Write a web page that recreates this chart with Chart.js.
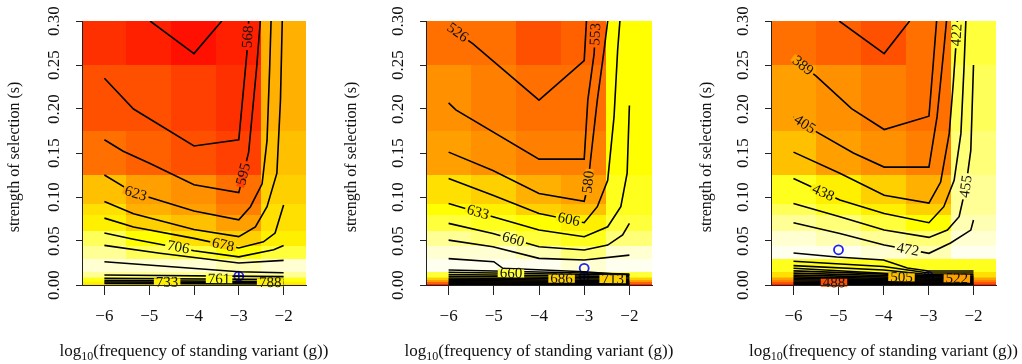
<!DOCTYPE html>
<html>
<head>
<meta charset="utf-8">
<script src="https://cdn.jsdelivr.net/npm/chart.js@4.4.0/dist/chart.umd.min.js"></script>
<style>
  html, body { margin: 0; padding: 0; background: #fff; }
  #wrap { position: relative; width: 1022px; height: 364px; overflow: hidden; }
  canvas { position: absolute; top: 0; }
</style>
</head>
<body>
<div id="wrap">
  <canvas id="p1" width="340" height="364" style="left:0px"></canvas>
  <canvas id="p2" width="340" height="364" style="left:340px"></canvas>
  <canvas id="p3" width="342" height="364" style="left:680px"></canvas>
</div>
<script>
// grid of the image: one column per log10(g), rows bounded by these s values
const G_CENTRES = [-6, -5, -4, -3, -2];
const S_EDGES = [0, 0.002, 0.004, 0.006, 0.008, 0.01, 0.015, 0.03, 0.045, 0.062, 0.08, 0.093, 0.125, 0.175, 0.25, 0.3];
const G_TICKS = [-6, -5, -4, -3, -2];
const S_TICKS = [0, 0.05, 0.1, 0.15, 0.2, 0.25, 0.3];

// heat level of each cell, rows from s=0 upwards (0 red, 16 yellow, 24 nearly white)
const HEAT_1 = [
  [14, 14, 14, 14, 14], [15, 15, 15, 15, 15], [16, 16, 16, 16, 16], [17, 17, 17, 17, 17],
  [19, 19, 19, 19, 19], [21, 21, 21, 21, 21], [23, 23, 23, 22, 23], [21, 19, 18, 16, 18],
  [19, 16, 14, 13, 15], [15, 13, 12, 10, 14], [14, 11, 10, 8, 14], [12, 10, 9, 7, 13],
  [7, 6, 5, 4, 12], [5, 5, 4, 3, 11], [3, 2, 1, 2, 11]
];
const HEAT_2 = [
  [2, 2, 2, 2, 2], [6, 6, 6, 6, 6], [10, 10, 10, 10, 10], [13, 13, 13, 13, 13],
  [15, 15, 15, 15, 15], [18, 18, 18, 18, 18], [24, 24, 24, 23, 24], [23, 23, 22, 20, 23],
  [21, 20, 18, 17, 20], [18, 17, 16, 15, 18], [16, 15, 13, 12, 17], [14, 13, 11, 10, 17],
  [10, 9, 8, 8, 16], [9, 8, 7, 7, 16], [7, 7, 5, 6, 16]
];
const HEAT_3 = [
  [2, 2, 2, 2, 2], [5, 5, 5, 5, 5], [8, 8, 8, 8, 8], [10, 10, 10, 10, 10],
  [12, 12, 12, 12, 12], [14, 14, 14, 14, 14], [17, 17, 17, 17, 17], [24, 24, 23, 22, 24],
  [23, 22, 21, 20, 23], [21, 20, 18, 16, 22], [19, 17, 15, 13, 21], [17, 15, 13, 11, 21],
  [12, 10, 9, 8, 20], [10, 9, 8, 7, 19], [7, 6, 5, 7, 18]
];

// contour lines as [log10(g), s] vertices
const LINES_1 = [
  [[-4.98, 0.3], [-4.0, 0.263], [-3.38, 0.3]],
  [[-6, 0.235], [-5.35, 0.2], [-4, 0.158], [-3, 0.165], [-2.82, 0.263], [-2.78, 0.3]],
  [[-6, 0.165], [-5.58, 0.152], [-4.98, 0.138], [-4, 0.114], [-3, 0.105], [-2.78, 0.151], [-2.6, 0.248], [-2.52, 0.3]],
  [[-6, 0.125], [-5.35, 0.105], [-4, 0.084], [-3, 0.074], [-2.74, 0.089], [-2.48, 0.115], [-2.37, 0.164], [-2.31, 0.248], [-2.28, 0.3]],
  [[-6, 0.095], [-5.35, 0.081], [-4, 0.063], [-3, 0.055], [-2.63, 0.066], [-2.37, 0.089], [-2.15, 0.127], [-2.07, 0.21], [-2.03, 0.3]],
  [[-6, 0.076], [-5.35, 0.066], [-4, 0.053], [-3, 0.042], [-2.45, 0.049], [-2.19, 0.059], [-2, 0.091]],
  [[-6, 0.059], [-5.35, 0.052], [-4, 0.039], [-3, 0.032], [-2.22, 0.04], [-2, 0.045]],
  [[-6, 0.045], [-4.76, 0.036], [-3, 0.025], [-2, 0.028]],
  [[-6, 0.0265], [-3, 0.015], [-2, 0.014]],
  [[-6, 0.0114], [-2, 0.0095]],
  [[-6, 0.0075], [-2, 0.0062]],
  [[-6, 0.005], [-2, 0.004]],
  [[-6, 0.0034], [-2, 0.0026]],
  [[-6, 0.0018], [-2, 0.0012]]
];
const LINES_2 = [
  [[-6, 0.294], [-5.46, 0.274], [-4, 0.21], [-3, 0.255], [-2.95, 0.3]],
  [[-6, 0.207], [-5.84, 0.199], [-4, 0.143], [-3, 0.143], [-2.92, 0.21], [-2.78, 0.263], [-2.745, 0.3]],
  [[-6, 0.151], [-5.02, 0.13], [-4, 0.104], [-3, 0.095], [-2.92, 0.112], [-2.86, 0.142], [-2.71, 0.21], [-2.56, 0.267], [-2.48, 0.3]],
  [[-6, 0.121], [-5.02, 0.102], [-4, 0.0813], [-3, 0.0708], [-2.71, 0.089], [-2.48, 0.119], [-2.34, 0.191], [-2.26, 0.267], [-2.21, 0.3]],
  [[-6, 0.0927], [-5.02, 0.0776], [-4, 0.0624], [-3, 0.0549], [-2.48, 0.0662], [-2.19, 0.089], [-2.05, 0.127], [-2, 0.204]],
  [[-6, 0.07], [-5.02, 0.0586], [-4, 0.0435], [-3, 0.0397], [-2.48, 0.0454], [-2.15, 0.0568], [-2, 0.07]],
  [[-6, 0.051], [-5.02, 0.0435], [-4, 0.0303], [-3, 0.0284], [-2, 0.034]],
  [[-6, 0.03], [-5, 0.0265], [-4.8, 0.019], [-3, 0.0151], [-2, 0.0114]],
  [[-6, 0.017], [-2, 0.0125]],
  [[-6, 0.0145], [-2, 0.011]],
  [[-6, 0.012], [-2, 0.0095]],
  [[-6, 0.01], [-2, 0.008]],
  [[-6, 0.008], [-2, 0.0065]],
  [[-6, 0.0065], [-2, 0.005]],
  [[-6, 0.005], [-2, 0.004]],
  [[-6, 0.0037], [-2, 0.003]],
  [[-6, 0.0025], [-2, 0.002]],
  [[-6, 0.0015], [-2, 0.0012]],
  [[-6, 0.0006], [-2, 0.0005]]
];
const LINES_3 = [
  [[-4.985, 0.3], [-3.985, 0.263], [-3.42, 0.3]],
  [[-6, 0.258], [-5.49, 0.237], [-4.71, 0.2005], [-3.985, 0.1767], [-2.99, 0.1918], [-2.9, 0.248], [-2.82, 0.3]],
  [[-6, 0.191], [-5.49, 0.174], [-4.67, 0.15], [-3.985, 0.134], [-2.99, 0.134], [-2.81, 0.191], [-2.66, 0.267], [-2.6, 0.3]],
  [[-6, 0.151], [-4.97, 0.127], [-3.985, 0.102], [-2.99, 0.093], [-2.73, 0.117], [-2.54, 0.172], [-2.45, 0.229], [-2.38, 0.28], [-2.36, 0.3]],
  [[-6, 0.121], [-4.97, 0.0965], [-3.985, 0.0813], [-2.99, 0.0708], [-2.66, 0.089], [-2.43, 0.119], [-2.28, 0.172], [-2.21, 0.248], [-2.17, 0.3]],
  [[-6, 0.0927], [-4.97, 0.0776], [-3.985, 0.0624], [-2.99, 0.0541], [-2.58, 0.0624], [-2.32, 0.0776], [-2.17, 0.1116], [-2.06, 0.153], [-2, 0.25]],
  [[-6, 0.0708], [-4.97, 0.0586], [-3.985, 0.0454], [-2.99, 0.036], [-2.51, 0.0477], [-2.06, 0.0624], [-2, 0.0738]],
  [[-6, 0.0363], [-5.04, 0.0318], [-4, 0.0284], [-3.47, 0.0193], [-3, 0.0159], [-2, 0.0159]],
  [[-6, 0.027], [-4, 0.021], [-3, 0.0136], [-2, 0.0136]],
  [[-6, 0.022], [-4, 0.017], [-3, 0.012], [-2, 0.0115]],
  [[-6, 0.019], [-3, 0.0105], [-2, 0.01]],
  [[-6, 0.016], [-2, 0.009]],
  [[-6, 0.0135], [-2, 0.008]],
  [[-6, 0.0112], [-2, 0.007]],
  [[-6, 0.0092], [-2, 0.006]],
  [[-6, 0.0075], [-2, 0.005]],
  [[-6, 0.006], [-2, 0.004]],
  [[-6, 0.0045], [-2, 0.003]],
  [[-6, 0.003], [-2, 0.002]],
  [[-6, 0.0018], [-2, 0.0012]],
  [[-6, 0.0008], [-2, 0.0005]]
];

// contour labels: text, line index, log10(g), s
const LABELS_1 = [
  ["568", 1, -2.8, 0.282], ["595", 2, -2.9, 0.126], ["623", 3, -5.3, 0.104],
  ["678", 5, -3.35, 0.0457], ["706", 6, -4.35, 0.043],
  ["733", 12, -4.6, 0.0031], ["761", 10, -3.44, 0.0067], ["788", 12, -2.3, 0.0027]
];
const LABELS_2 = [
  ["526", 0, -5.8, 0.287], ["553", 1, -2.755, 0.285], ["580", 2, -2.91, 0.117],
  ["606", 3, -3.34, 0.0744], ["633", 4, -5.35, 0.0827], ["660", 5, -4.57, 0.052],
  ["660", 9, -4.62, 0.0133], ["686", 12, -3.5, 0.0071], ["713", 12, -2.37, 0.0066]
];
const LABELS_3 = [
  ["389", 1, -5.79, 0.2494], ["405", 2, -5.75, 0.1827], ["422", 3, -2.376, 0.284],
  ["438", 4, -5.34, 0.105], ["455", 5, -2.17, 0.112], ["472", 6, -3.46, 0.0404],
  ["488", 18, -5.1, 0.0026], ["505", 13, -3.6, 0.0087], ["522", 13, -2.37, 0.0074]
];

// blue markers
const CIRCLES_1 = [[-3, 0.01]];
const CROSSES_1 = [[-3, 0.01]];
const CIRCLES_2 = [[-3, 0.019], [-3, 0.0095]];
const CROSSES_2 = [[-3, 0.0095]];
const CIRCLES_3 = [[-5, 0.04], [-3, 0.01]];
const CROSSES_3 = [[-3, 0.01]];

const SERIF = '"Liberation Serif", "Times New Roman", serif';
const INK = '#111';
const BLUE = '#1e1eff';

function heatColour(level) {
  const g = Math.min(255, Math.round(level * 16));
  const b = level > 16 ? Math.min(240, Math.round((level - 16) * 30)) : 0;
  return `rgb(255,${g},${b})`;
}

function cellLevel(heat, g, s) {
  const c = Math.max(0, Math.min(G_CENTRES.length - 1, Math.round(g - G_CENTRES[0])));
  let r = 0;
  while (r < S_EDGES.length - 2 && s >= S_EDGES[r + 1]) r++;
  return heat[r][c];
}

function makeChart(id, heat, lines, labels, circles, crosses, frame) {
  const canvas = document.getElementById(id);

  const heatPlugin = {
    id: 'heat',
    beforeDraw(chart) {
      const {ctx, scales: {x, y}} = chart;
      ctx.save();
      for (let r = 0; r < S_EDGES.length - 1; r++) {
        const yTop = Math.floor(y.getPixelForValue(S_EDGES[r + 1]));
        const yBot = Math.ceil(y.getPixelForValue(S_EDGES[r]));
        G_CENTRES.forEach((g, c) => {
          const x0 = Math.floor(x.getPixelForValue(g - 0.5));
          const x1 = Math.ceil(x.getPixelForValue(g + 0.5));
          ctx.fillStyle = heatColour(heat[r][c]);
          ctx.fillRect(x0, yTop, x1 - x0, yBot - yTop);
        });
      }
      ctx.restore();
    }
  };

  const labelPlugin = {
    id: 'contourLabels',
    afterDatasetsDraw(chart) {
      const {ctx, scales: {x, y}} = chart;
      ctx.save();
      ctx.font = `15px ${SERIF}`;
      ctx.textAlign = 'center';
      ctx.textBaseline = 'middle';
      labels.forEach(([text, li, g, s]) => {
        const px = x.getPixelForValue(g), py = y.getPixelForValue(s);
        // direction of the closest segment of its line
        const pts = lines[li].map(([a, b]) => [x.getPixelForValue(a), y.getPixelForValue(b)]);
        let best = Infinity, ang = 0;
        for (let i = 0; i < pts.length - 1; i++) {
          const [ax, ay] = pts[i], [bx, by] = pts[i + 1];
          const dx = bx - ax, dy = by - ay;
          const t = Math.max(0, Math.min(1, ((px - ax) * dx + (py - ay) * dy) / (dx * dx + dy * dy)));
          const d = Math.hypot(ax + t * dx - px, ay + t * dy - py);
          if (d < best) { best = d; ang = Math.atan2(dy, dx); }
        }
        if (ang > Math.PI / 2) ang -= Math.PI;
        if (ang < -Math.PI / 2) ang += Math.PI;
        const w = ctx.measureText(text).width;
        ctx.save();
        ctx.translate(px, py);
        ctx.rotate(ang);
        ctx.fillStyle = heatColour(cellLevel(heat, g, s));
        ctx.fillRect(-w / 2 - 2, -4, w + 4, 8);
        ctx.fillStyle = INK;
        ctx.fillText(text, 0, 0.5);
        ctx.restore();
      });
      ctx.restore();
    }
  };

  const axisTextPlugin = {
    id: 'axisText',
    afterDraw(chart) {
      const {ctx, chartArea: ca, scales: {y}} = chart;
      ctx.save();
      ctx.fillStyle = INK;
      ctx.font = `17px ${SERIF}`;
      ctx.textAlign = 'center';
      ctx.textBaseline = 'middle';
      // y tick labels, parallel to the axis
      y.ticks.forEach(t => {
        ctx.save();
        ctx.translate(ca.left - 27, y.getPixelForValue(t.value));
        ctx.rotate(-Math.PI / 2);
        ctx.fillText(t.value.toFixed(2), 0, 0);
        ctx.restore();
      });
      // y title
      ctx.font = `16px ${SERIF}`;
      ctx.save();
      ctx.translate(frame.yTitleX, (ca.top + ca.bottom) / 2 + 4);
      ctx.rotate(-Math.PI / 2);
      ctx.fillText('strength of selection (s)', 0, 0);
      ctx.restore();
      // x title with subscript
      const rest = '(frequency of standing variant (g))';
      const main = `17px ${SERIF}`, sub = `12px ${SERIF}`;
      ctx.font = main;
      const w1 = ctx.measureText('log').width, w3 = ctx.measureText(rest).width;
      ctx.font = sub;
      const w2 = ctx.measureText('10').width;
      const x0 = (ca.left + ca.right) / 2 - (w1 + w2 + w3) / 2;
      const base = 356;
      ctx.textAlign = 'left';
      ctx.textBaseline = 'alphabetic';
      ctx.font = main; ctx.fillText('log', x0, base);
      ctx.font = sub; ctx.fillText('10', x0 + w1, base + 4);
      ctx.font = main; ctx.fillText(rest, x0 + w1 + w2, base);
      ctx.restore();
    }
  };

  const datasets = lines.map(pts => ({
    data: pts.map(([gx, sy]) => ({x: gx, y: sy})),
    showLine: true,
    borderColor: '#000',
    borderWidth: 1.6,
    pointRadius: 0,
    pointHoverRadius: 0
  }));
  datasets.push({
    data: circles.map(([gx, sy]) => ({x: gx, y: sy})),
    pointStyle: 'circle', pointRadius: 4.5, borderWidth: 1.8,
    borderColor: BLUE, backgroundColor: 'rgba(0,0,0,0)'
  });
  datasets.push({
    data: crosses.map(([gx, sy]) => ({x: gx, y: sy})),
    pointStyle: 'cross', pointRadius: 4.5, borderWidth: 1.8,
    borderColor: BLUE, backgroundColor: BLUE
  });

  const axisLine = {display: true, color: '#222', width: 1, z: 1};

  return new Chart(canvas, {
    type: 'scatter',
    data: {datasets},
    options: {
      responsive: false,
      animation: false,
      devicePixelRatio: 1,
      layout: {padding: {left: 0, right: canvas.width - frame.right, top: 21, bottom: 0}},
      plugins: {legend: {display: false}, tooltip: {enabled: false}},
      events: [],
      scales: {
        x: {
          type: 'linear', min: -6.5, max: -1.5,
          afterBuildTicks: s => { s.ticks = G_TICKS.map(v => ({value: v})); },
          afterFit: s => { s.height = 79; },
          grid: {drawOnChartArea: false, drawTicks: true, tickLength: 10, color: '#222', tickColor: '#222'},
          border: axisLine,
          ticks: {
            font: {family: SERIF, size: 17}, color: INK, padding: 11,
            maxRotation: 0, autoSkip: false,
            callback: v => '\u2212' + Math.abs(v)
          }
        },
        y: {
          type: 'linear', min: 0, max: 0.3,
          afterBuildTicks: s => { s.ticks = S_TICKS.map(v => ({value: v})); },
          afterFit: s => { s.width = frame.left; },
          grid: {drawOnChartArea: false, drawTicks: true, tickLength: 6, color: '#222', tickColor: '#222'},
          border: axisLine,
          ticks: {display: false}
        }
      }
    },
    plugins: [heatPlugin, labelPlugin, axisTextPlugin]
  });
}

makeChart('p1', HEAT_1, LINES_1, LABELS_1, CIRCLES_1, CROSSES_1, {left: 82, right: 306, yTitleX: 15});
makeChart('p2', HEAT_2, LINES_2, LABELS_2, CIRCLES_2, CROSSES_2, {left: 86, right: 312, yTitleX: 12});
makeChart('p3', HEAT_3, LINES_3, LABELS_3, CIRCLES_3, CROSSES_3, {left: 91, right: 316, yTitleX: 27});
</script>
</body>
</html>
